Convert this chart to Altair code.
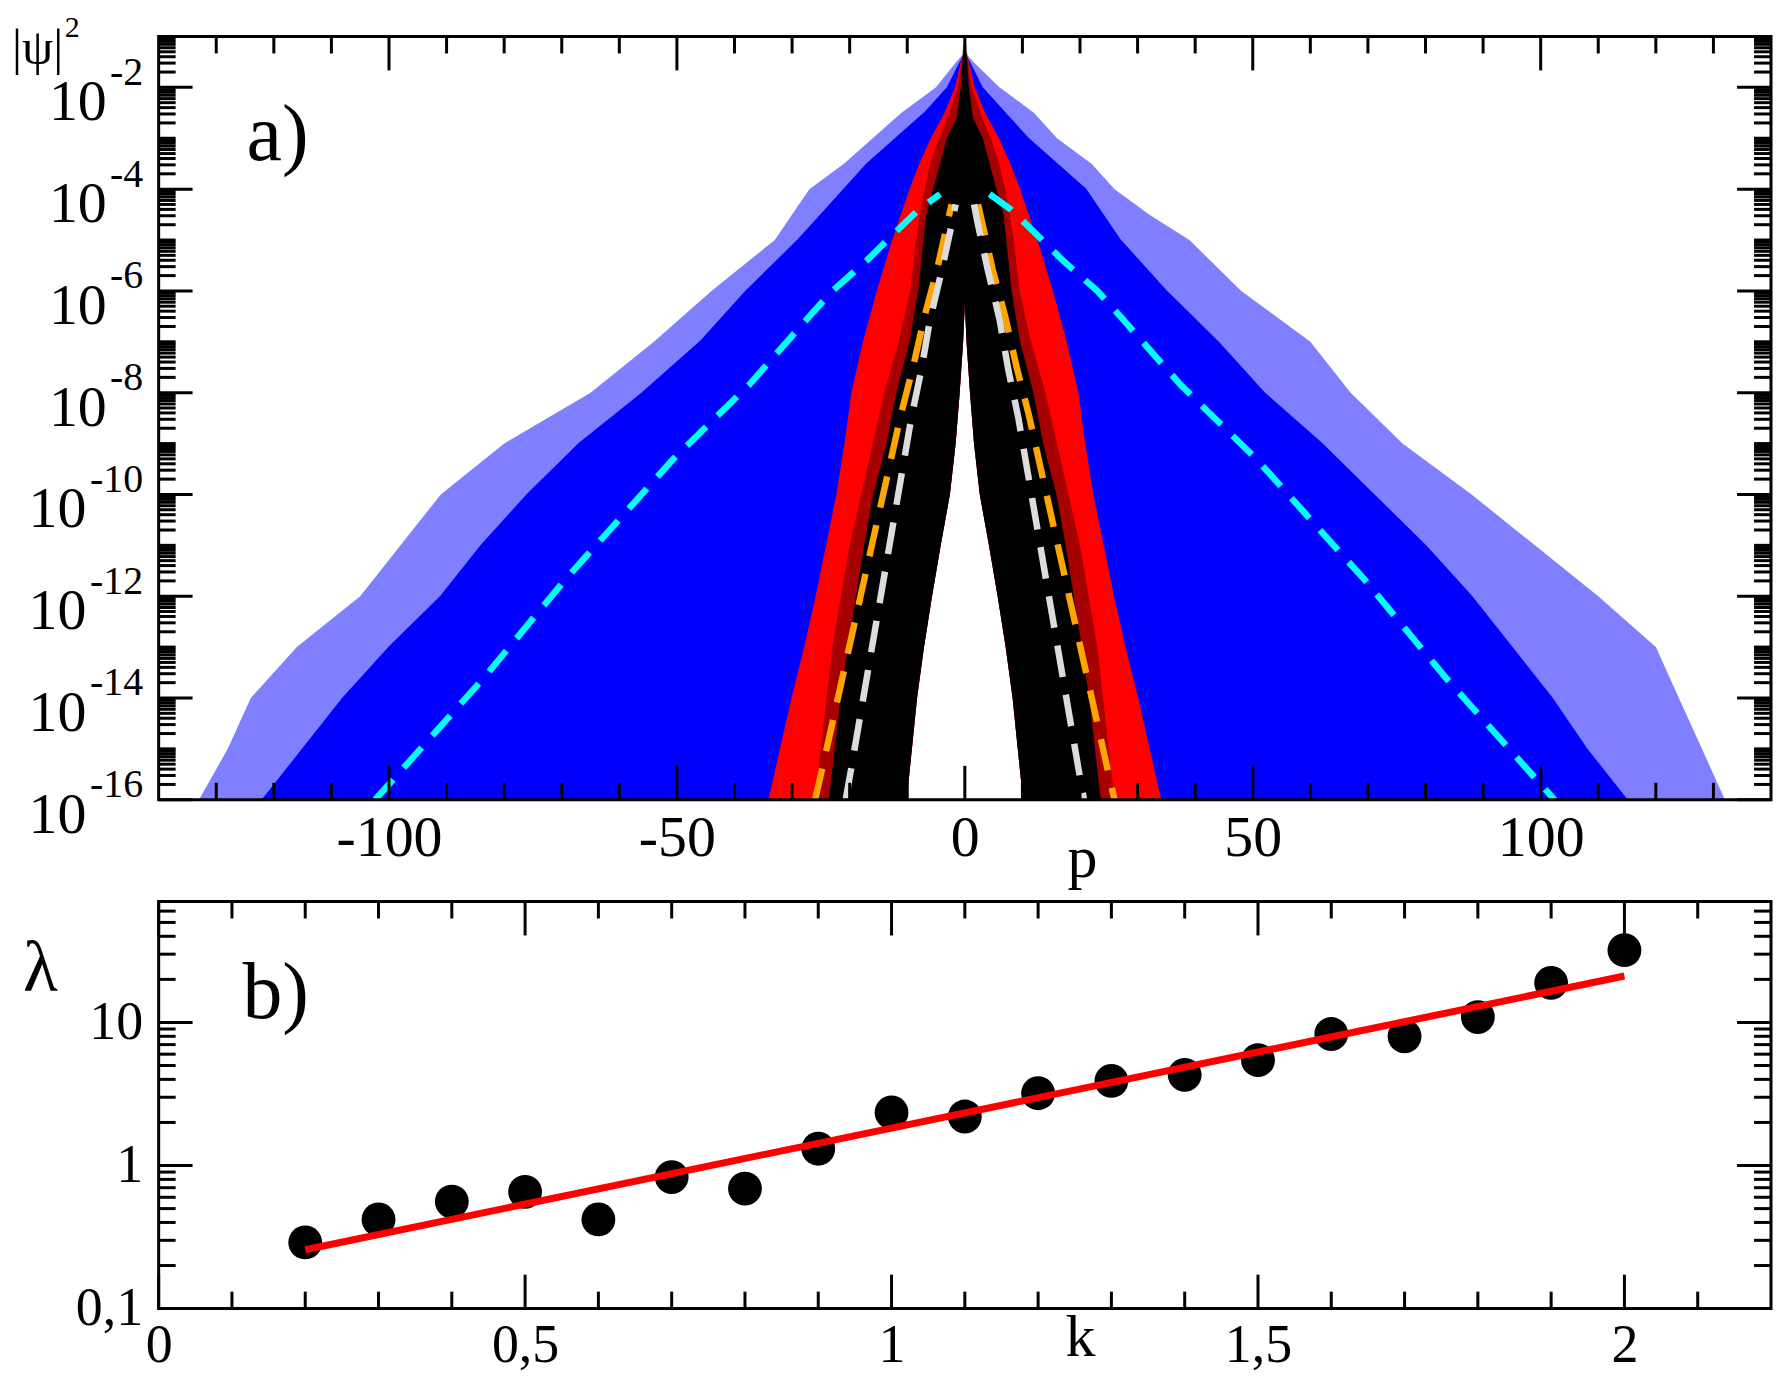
import altair as alt
import pandas as pd

FONT = "Liberation Serif, serif"

# ---------------- panel a) : |psi|^2 versus p (values given as exponents of 10) ----------------
LEVELS_BLUE = [-16, -15, -14, -13, -12, -11, -10, -9, -8, -7, -6, -5, -4.5, -4, -3.5, -3, -2.5, -2, -1.5, -1.35]
BLUE_DENSE_L = [122, 115, 108, 100, 91, 84, 76, 67, 56, 46, 38, 29, 25, 21, 17, 12, 7, 3, 0.8, 0]
BLUE_DENSE_R = [115, 108, 102, 95, 88, 80, 71, 62, 52, 44, 35, 27, 24, 21, 16, 11, 7, 3, 0.8, 0]
BLUE_SCAT_L = [133, 128, 124, 116, 105, 98, 91, 80, 65, 54, 44, 33, 30, 27, 21, 16, 11, 5, 1.5, 0.3]
BLUE_SCAT_R = [132, 128, 124, 120, 110, 99, 88, 76, 67, 60, 48, 39, 32, 26, 22, 16, 12, 6, 1.5, 0.3]
# empty central wedge (half width) at the same 20 levels
GAP = [10.2, 9.3, 8.4, 7.2, 5.8, 4.3, 2.7, 1.7, 1.0, 0.4, 0, 0, 0, 0, 0, 0, 0, 0, 0, 0]

LEVELS_RED = [-16, -15, -14, -13, -12, -11, -10, -9, -8, -7, -6, -5, -4.5, -4, -3.5, -3, -2.5, -2, -1.5, -1.3]
RED_DENSE = [34, 32, 30, 27.8, 25.8, 24, 22.2, 20.8, 19.6, 17.6, 15.2, 12.5, 11.0, 9.5, 7.8, 5.8, 3.4, 1.6, 0.6, 0]

LEVELS_BLACK = [-16, -15, -14, -13, -12, -11, -10, -9, -8, -7, -6, -5, -4.5, -4, -3.5, -3, -2.6, -2, -1.5, -1.15]
BLACK_DENSE = [23.5, 22.5, 21.5, 20.2, 18.8, 17.4, 15.8, 13.5, 11.8, 9.5, 8.0, 7.1, 6.6, 5.4, 4.2, 3.0, 1.3, 0.6, 0.3, 0]
BLACK_SCAT = [26, 25, 24, 23, 21.5, 20, 18, 16, 14, 11.5, 9.5, 8.5, 7.8, 7, 6, 4.5, 3, 1.2, 0.6, 0.3]

CYAN_P = [4.3, 8, 13, 17, 23, 27, 37.5, 50.6, 69.6, 83.5, 102.4]
CYAN_E = [-4.1, -4.4, -4.95, -5.4, -6.0, -6.5, -7.85, -9.3, -11.7, -13.6, -16]
ORANGE_P = [2.3, 2.9, 4.8, 7, 9, 11.1, 24.55, 26]
ORANGE_E = [-4.3, -4.6, -5.57, -6.5, -7.5, -8.43, -15.28, -16]
GRAY_P = [1.6, 2.1, 3.95, 6.05, 7.55, 9.3, 19.75, 20.7]
GRAY_E = [-4.3, -4.6, -5.57, -6.57, -7.55, -8.5, -15.4, -16]

A_X_MAJOR = [-100, -50, 0, 50, 100]
A_X_MINOR = [-130, -120, -110, -90, -80, -70, -60, -40, -30, -20, -10,
             10, 20, 30, 40, 60, 70, 80, 90, 110, 120, 130]
A_Y_LABEL_EXP = [-16, -14, -12, -10, -8, -6, -4, -2]
A_Y_ODD_EXP = [-15, -13, -11, -9, -7, -5, -3]
A_Y_DECADES = [-16, -15, -14, -13, -12, -11, -10, -9, -8, -7, -6, -5, -4, -3, -2]
MINOR_MULT = [2, 3, 4, 5, 6, 7, 8, 9]

# ---------------- panel b) : lambda versus k ----------------
K = [0.2, 0.3, 0.4, 0.5, 0.6, 0.7, 0.8, 0.9, 1.0, 1.1, 1.2, 1.3, 1.4, 1.5, 1.6, 1.7, 1.8, 1.9, 2.0]
LAMBDA = [0.29, 0.42, 0.56, 0.655, 0.42, 0.83, 0.69, 1.31, 2.35, 2.2, 3.2, 3.9, 4.3, 5.45, 8.3, 8.0, 10.9, 18.9, 32.0]
FIT_K = [0.2, 2.0]
FIT_L = [0.258, 21.1]

B_X_MAJOR = [0, 0.5, 1, 1.5, 2]
B_X_MINOR = [0.1, 0.2, 0.3, 0.4, 0.6, 0.7, 0.8, 0.9, 1.1, 1.2, 1.3, 1.4, 1.6, 1.7, 1.8, 1.9, 2.1]
B_Y_MAJOR = [0.1, 1, 10]
B_Y_MINOR = [0.2, 0.3, 0.4, 0.5, 0.6, 0.7, 0.8, 0.9, 2, 3, 4, 5, 6, 7, 8, 9, 20, 30, 40, 50, 60]

# ---------------- layout ----------------
W = 1616
H_A = 765
H_B = 408
MAJ = 34
MIN = 17
TICK_W = 3

XS_A = alt.Scale(domain=[-140, 140], nice=False, zero=False)
YS_A = alt.Scale(type="log", domain=[1e-16, 1e-1], nice=False)
XS_B = alt.Scale(domain=[0, 2.2], nice=False, zero=False)
YS_B = alt.Scale(type="log", domain=[0.1, 70], nice=False)

LABEL_EXPR = "replace(toString(datum.value), '.', ',')"

X_AXIS_A = alt.Axis(
    values=A_X_MAJOR, labelExpr="toString(datum.value)", ticks=False, tickSize=0,
    domain=False, grid=False, title=None, labelFont=FONT, labelFontSize=58,
    labelColor="black", labelPadding=10, labelFlush=False, labelOverlap=False,
)
X_AXIS_B = alt.Axis(
    values=B_X_MAJOR, labelExpr=LABEL_EXPR, ticks=False, tickSize=0, domain=False,
    grid=False, title=None, labelFont=FONT, labelFontSize=54, labelColor="black",
    labelPadding=10, labelFlush=False, labelOverlap=False,
)
Y_AXIS_B = alt.Axis(
    values=B_Y_MAJOR, labelExpr=LABEL_EXPR, ticks=False, tickSize=0, domain=False,
    grid=False, title=None, labelFont=FONT, labelFontSize=54, labelColor="black",
    labelPadding=16, labelFlush=False, labelOverlap=False,
)


def arm_frame(levels, left, right, inner):
    rows = []
    for e, l, r, g in zip(levels, left, right, inner):
        y = 10.0 ** e
        rows.append({"arm": "L", "y": y, "x": -l, "x2": -g})
        rows.append({"arm": "R", "y": y, "x": r, "x2": g})
    return pd.DataFrame(rows)


def cloud(df, color, opacity, edge):
    kw = dict(orient="horizontal", color=color, opacity=opacity, clip=True)
    if edge:
        kw.update(stroke=color, strokeWidth=1.2)
    return alt.Chart(df).mark_area(**kw).encode(
        y=alt.Y("y:Q", scale=YS_A, axis=None),
        x=alt.X("x:Q", scale=XS_A, axis=X_AXIS_A),
        x2="x2:Q",
        detail="arm:N",
    )


def dashed(P, E, color, dash):
    rows = [{"side": "L", "p": -p, "y": 10.0 ** e} for p, e in zip(P, E)]
    rows += [{"side": "R", "p": p, "y": 10.0 ** e} for p, e in zip(P, E)]
    return alt.Chart(pd.DataFrame(rows)).mark_line(
        color=color, strokeWidth=6.5, strokeDash=dash, clip=True
    ).encode(
        x=alt.X("p:Q", scale=XS_A, axis=X_AXIS_A),
        y=alt.Y("y:Q", scale=YS_A, axis=None),
        detail="side:N",
    )


def xticks(values, scale, axis, length, edge, H):
    df = pd.DataFrame({"v": values})
    if edge == "bottom":
        y0, y1 = H, H - length
    else:
        y0, y1 = 0, length
    return alt.Chart(df).mark_rule(color="black", strokeWidth=TICK_W).encode(
        x=alt.X("v:Q", scale=scale, axis=axis), y=alt.value(y0), y2=alt.value(y1)
    )


def yticks(values, scale, axis, length, edge):
    df = pd.DataFrame({"v": values})
    if edge == "left":
        x0, x1 = 0, length
    else:
        x0, x1 = W, W - length
    return alt.Chart(df).mark_rule(color="black", strokeWidth=TICK_W).encode(
        y=alt.Y("v:Q", scale=scale, axis=axis), x=alt.value(x0), x2=alt.value(x1)
    )


def frame(H):
    return alt.Chart(alt.Data(values=[{}])).mark_rect(
        fillOpacity=0, stroke="black", strokeWidth=3
    ).encode(x=alt.value(0), x2=alt.value(W), y=alt.value(0), y2=alt.value(H))


def label(text, x, y, size, align="left"):
    return alt.Chart(alt.Data(values=[{}])).mark_text(
        text=text, font=FONT, fontSize=size, align=align, baseline="alphabetic", color="black"
    ).encode(x=alt.value(x), y=alt.value(y))


# ---------------- panel a ----------------
blue_scat = arm_frame(LEVELS_BLUE, BLUE_SCAT_L, BLUE_SCAT_R, GAP)
blue_dense = arm_frame(LEVELS_BLUE, BLUE_DENSE_L, BLUE_DENSE_R, GAP)
red_dense = arm_frame(LEVELS_RED, RED_DENSE, RED_DENSE, GAP)
black_scat = arm_frame(LEVELS_BLACK, BLACK_SCAT, BLACK_SCAT, GAP)
black_dense = arm_frame(LEVELS_BLACK, BLACK_DENSE, BLACK_DENSE, GAP)

a_y_major = [10.0 ** e for e in A_Y_LABEL_EXP]
a_y_minor = [m * 10.0 ** d for d in A_Y_DECADES for m in MINOR_MULT] + [10.0 ** d for d in A_Y_ODD_EXP]

ylab = pd.DataFrame({"e": A_Y_LABEL_EXP, "t": [str(e) for e in A_Y_LABEL_EXP]})
ylab["y"] = 10.0 ** ylab["e"].astype(float)

ten_labels = alt.Chart(ylab).transform_calculate(
    lx="-17.5 - 14 - 20.5 * (length(datum.t) - 1)"
).mark_text(
    text="10", font=FONT, fontSize=58, align="right", baseline="alphabetic", dy=33, color="black"
).encode(
    y=alt.Y("y:Q", scale=YS_A, axis=None),
    x=alt.X("lx:Q", scale=None, axis=None),
)
exp_labels = alt.Chart(ylab).mark_text(
    font=FONT, fontSize=40, align="right", baseline="alphabetic", dy=-2.5, color="black"
).encode(
    y=alt.Y("y:Q", scale=YS_A, axis=None),
    x=alt.value(-15.5),
    text="t:N",
)

panel_a = alt.layer(
    cloud(blue_scat, "#0000FF", 0.5, False),
    cloud(blue_dense, "#0000FF", 1, True),
    cloud(red_dense, "#FF0000", 1, True),
    cloud(black_scat, "#000000", 0.35, False),
    cloud(black_dense, "#000000", 1, True),
    dashed(CYAN_P, CYAN_E, "#00FFFF", [27, 16]),
    dashed(ORANGE_P, ORANGE_E, "#FFA500", [32, 18]),
    dashed(GRAY_P, GRAY_E, "#DCDCDC", [32, 18]),
    xticks(A_X_MAJOR, XS_A, X_AXIS_A, MAJ, "bottom", H_A),
    xticks(A_X_MINOR, XS_A, X_AXIS_A, MIN, "bottom", H_A),
    xticks(A_X_MAJOR, XS_A, X_AXIS_A, MAJ, "top", H_A),
    xticks(A_X_MINOR, XS_A, X_AXIS_A, MIN, "top", H_A),
    yticks(a_y_major, YS_A, None, MAJ, "left"),
    yticks(a_y_minor, YS_A, None, MIN, "left"),
    yticks(a_y_major, YS_A, None, MAJ, "right"),
    yticks(a_y_minor, YS_A, None, MIN, "right"),
    frame(H_A),
    ten_labels,
    exp_labels,
    label("|\u03c8|", -147, 28, 50),
    label("2", -94, 1, 30),
    label("a)", 88, 124, 80),
    label("p", 926, 842, 60, align="center"),
).properties(width=W, height=H_A)

# ---------------- panel b ----------------
pts = pd.DataFrame({"k": K, "lam": LAMBDA})
fit = pd.DataFrame({"k": FIT_K, "lam": FIT_L})

panel_b = alt.layer(
    alt.Chart(pts).mark_circle(size=1150, color="black", opacity=1).encode(
        x=alt.X("k:Q", scale=XS_B, axis=X_AXIS_B),
        y=alt.Y("lam:Q", scale=YS_B, axis=Y_AXIS_B),
    ),
    alt.Chart(fit).mark_line(color="#FF0000", strokeWidth=7).encode(
        x=alt.X("k:Q", scale=XS_B, axis=X_AXIS_B),
        y=alt.Y("lam:Q", scale=YS_B, axis=Y_AXIS_B),
    ),
    xticks(B_X_MAJOR, XS_B, X_AXIS_B, MAJ, "bottom", H_B),
    xticks(B_X_MINOR, XS_B, X_AXIS_B, MIN, "bottom", H_B),
    xticks(B_X_MAJOR, XS_B, X_AXIS_B, MAJ, "top", H_B),
    xticks(B_X_MINOR, XS_B, X_AXIS_B, MIN, "top", H_B),
    yticks(B_Y_MAJOR, YS_B, Y_AXIS_B, MAJ, "left"),
    yticks(B_Y_MINOR, YS_B, Y_AXIS_B, MIN, "left"),
    yticks(B_Y_MAJOR, YS_B, Y_AXIS_B, MAJ, "right"),
    yticks(B_Y_MINOR, YS_B, Y_AXIS_B, MIN, "right"),
    frame(H_B),
    label("\u03bb", -136, 90, 72),
    label("b)", 84, 117, 80),
    label("k", 924, 456, 60, align="center"),
).properties(width=W, height=H_B)

chart = alt.vconcat(
    panel_a, panel_b, spacing=102, bounds="flush",
    padding={"left": 4, "top": 4, "right": 0, "bottom": 0},
).configure_view(strokeWidth=0)

chart.save("out.html", embed_options={"renderer": "svg", "actions": False})
